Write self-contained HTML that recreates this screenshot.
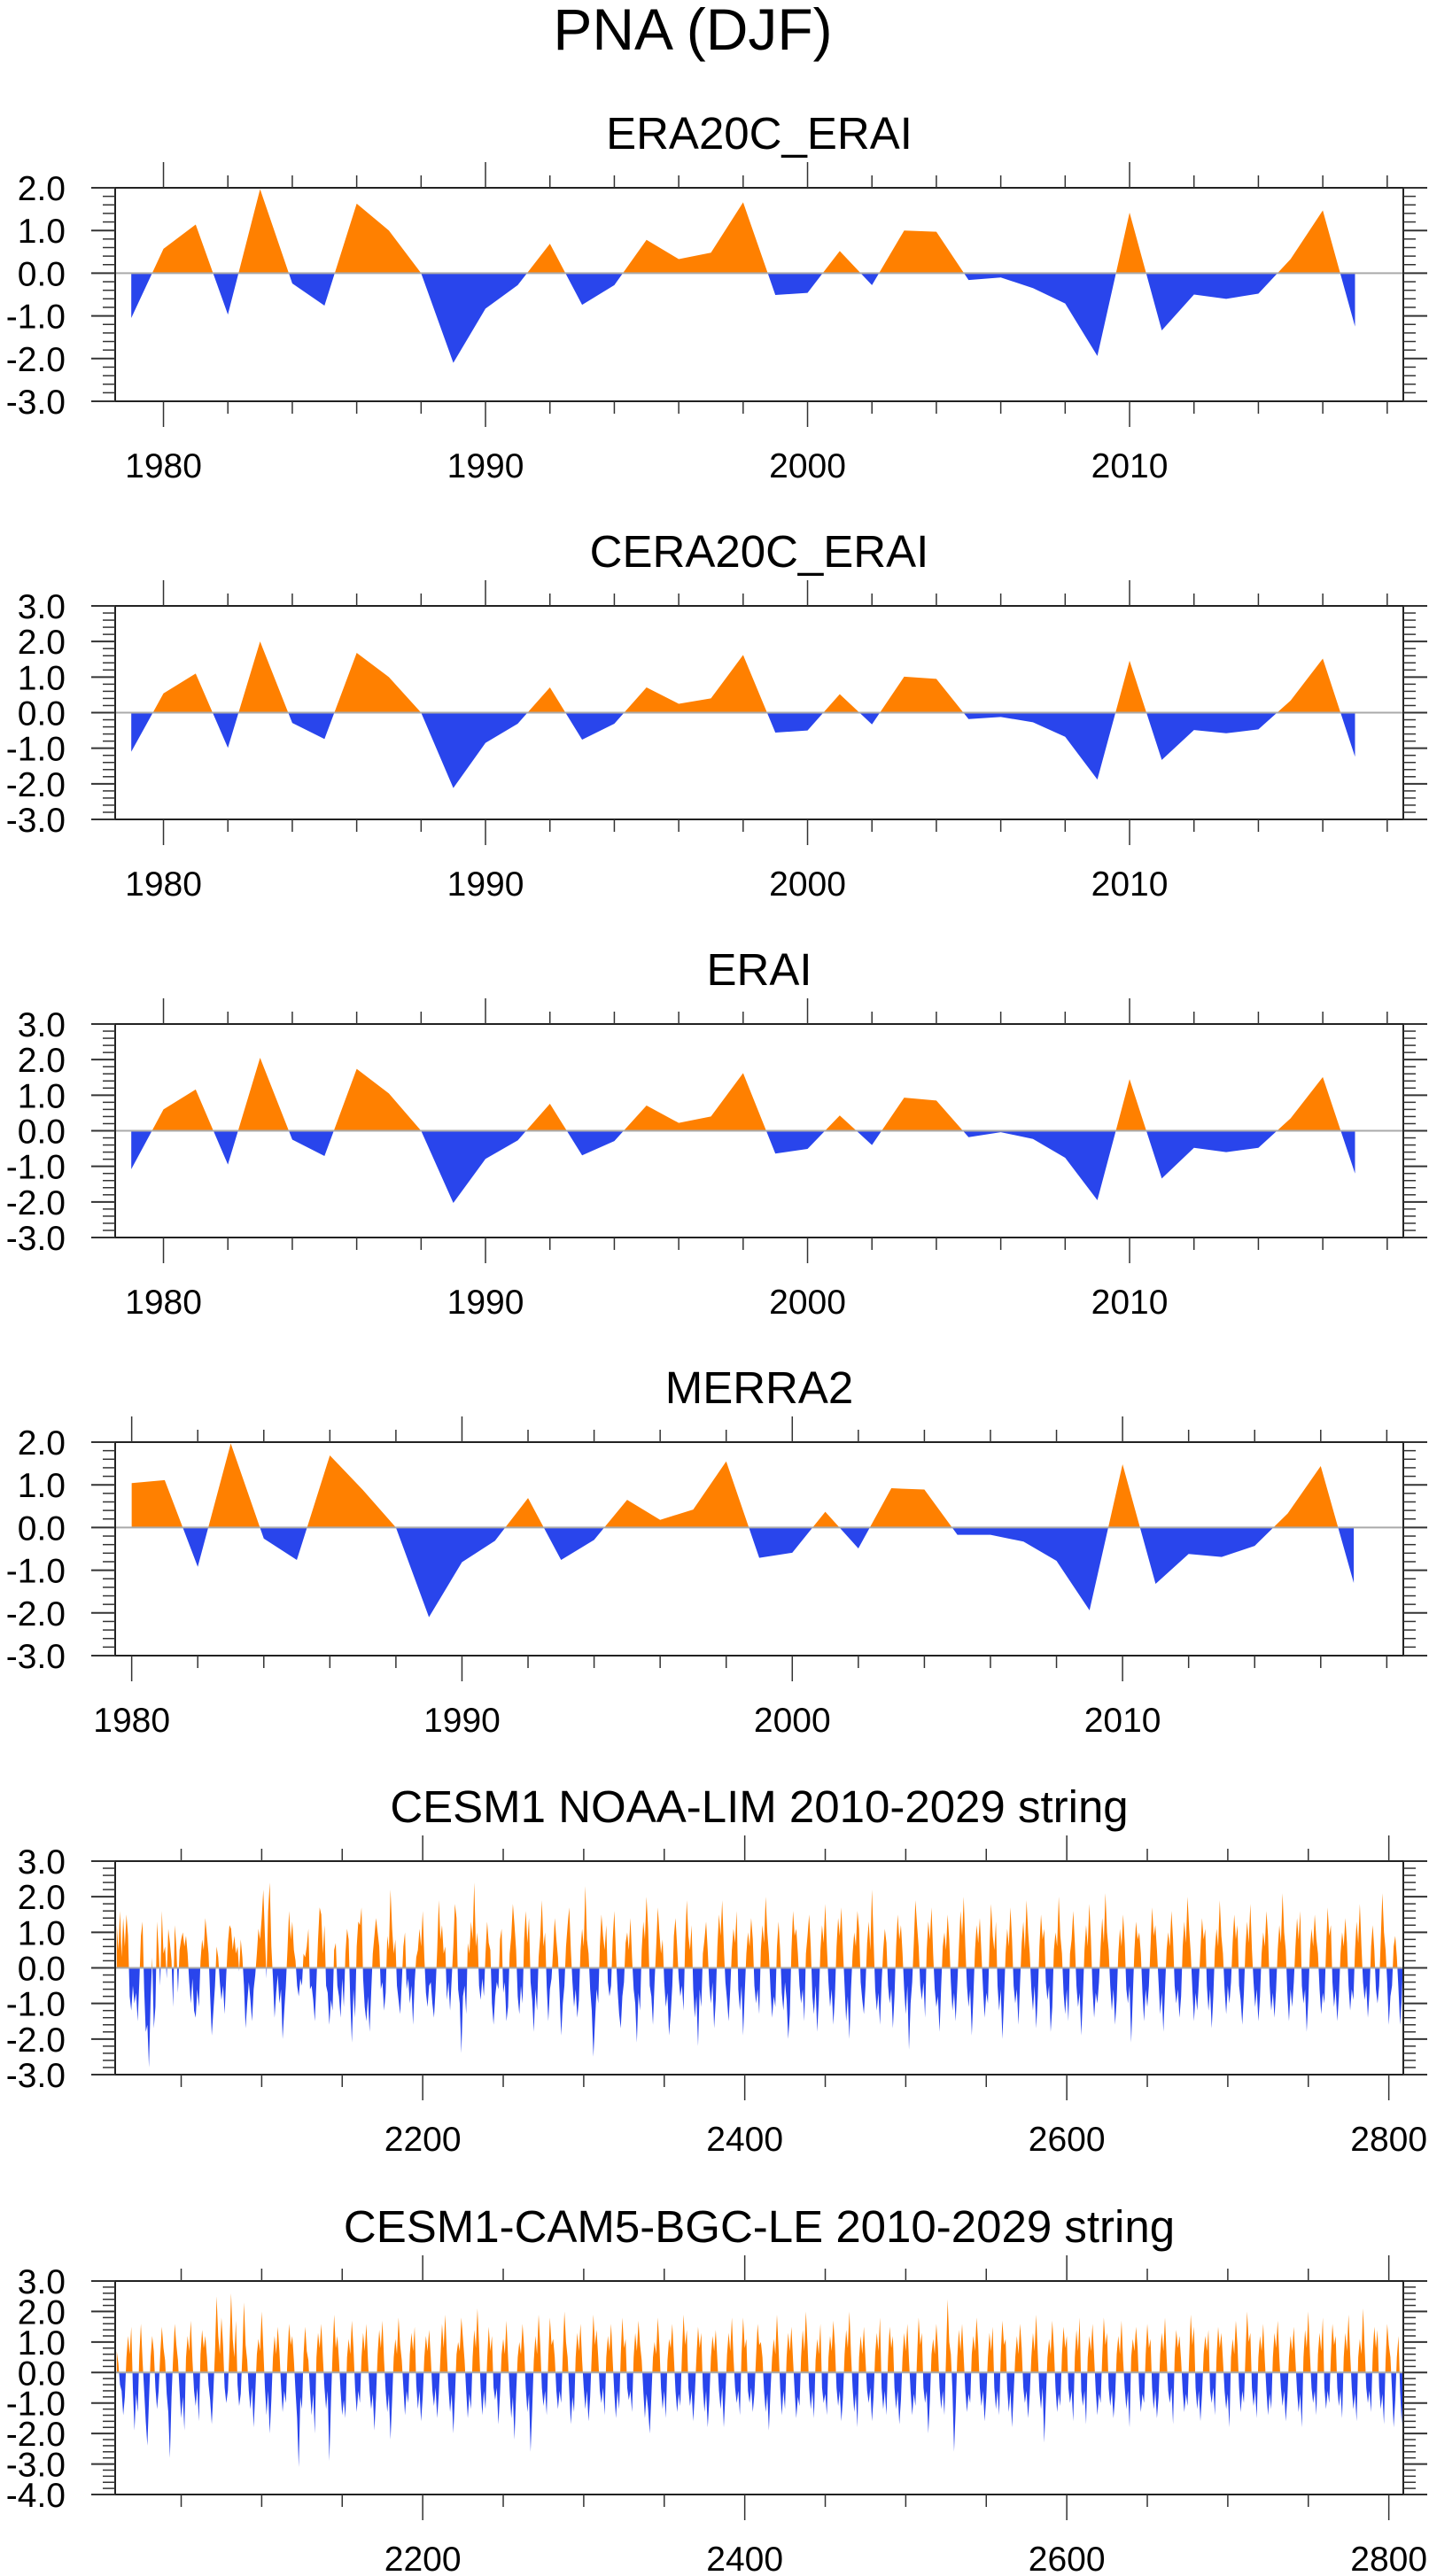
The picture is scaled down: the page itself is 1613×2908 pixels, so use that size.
<!DOCTYPE html>
<html><head><meta charset="utf-8"><title>PNA (DJF)</title>
<style>html,body{margin:0;padding:0;background:#fff}svg{display:block}text{font-family:"Liberation Sans",sans-serif;fill:#000}</style>
</head><body>
<svg id="fig" xmlns="http://www.w3.org/2000/svg" width="1613" height="2908" viewBox="0 0 1613 2908">
<rect width="1613" height="2908" fill="#fff"/>
<text x="782" y="56" font-size="66" text-anchor="middle">PNA (DJF)</text>
</svg>
<script>
// ---- data ----
const yearsA = [1979,1980,1981,1982,1983,1984,1985,1986,1987,1988,1989,1990,1991,1992,1993,1994,1995,1996,1997,1998,1999,2000,2001,2002,2003,2004,2005,2006,2007,2008,2009,2010,2011,2012,2013,2014,2015,2016,2017];
const era20c = [-1.05,0.57,1.14,-0.97,1.97,-0.24,-0.76,1.63,1.0,0.0,-2.1,-0.83,-0.28,0.69,-0.74,-0.28,0.78,0.33,0.48,1.66,-0.51,-0.46,0.52,-0.28,1.0,0.97,-0.16,-0.1,-0.35,-0.71,-1.94,1.42,-1.34,-0.5,-0.6,-0.48,0.33,1.47,-1.25];
const cera20c = [-1.10,0.54,1.10,-0.99,2.0,-0.29,-0.74,1.68,1.0,0.0,-2.12,-0.85,-0.31,0.71,-0.76,-0.31,0.71,0.25,0.40,1.62,-0.56,-0.5,0.52,-0.33,1.01,0.95,-0.18,-0.12,-0.27,-0.68,-1.88,1.46,-1.33,-0.49,-0.58,-0.47,0.34,1.52,-1.24];
const erai = [-1.08,0.6,1.16,-0.95,2.05,-0.25,-0.71,1.74,1.05,0.0,-2.03,-0.79,-0.27,0.76,-0.69,-0.29,0.71,0.22,0.40,1.62,-0.64,-0.51,0.43,-0.40,0.93,0.85,-0.18,-0.04,-0.23,-0.76,-1.95,1.45,-1.34,-0.48,-0.6,-0.48,0.35,1.51,-1.2];
const yearsM = [1980,1981,1982,1983,1984,1985,1986,1987,1988,1989,1990,1991,1992,1993,1994,1995,1996,1997,1998,1999,2000,2001,2002,2003,2004,2005,2006,2007,2008,2009,2010,2011,2012,2013,2014,2015,2016,2017];
const merra2 = [1.04,1.11,-0.92,1.97,-0.26,-0.76,1.69,0.88,0.0,-2.1,-0.81,-0.31,0.69,-0.76,-0.29,0.65,0.18,0.42,1.55,-0.71,-0.59,0.37,-0.49,0.92,0.89,-0.17,-0.17,-0.33,-0.78,-1.94,1.48,-1.32,-0.62,-0.69,-0.43,0.33,1.44,-1.3];
const limStart = 2010;
const limValues = [
1.2,0.5,1.6,0.3,1.4,0.6,1.5,0.9,-0.8,-1.2,-0.5,-1.0,-0.7,-1.5,-0.4,0.9,1.3,-0.6,-1.8,-1.6,-2.8,-0.9,0.3,-1.7,-1.1,1.3,0.5,-0.5,1.6,0.4,0.6,-0.3,1.1,0.7,0.2,-1.1,1.2,0.6,-0.7,0.5,
0.8,1.0,0.6,0.9,0.4,-0.4,-1.0,-0.3,-1.2,-1.4,-0.6,-1.1,0.2,0.8,0.5,1.4,0.9,0.4,-0.8,-1.9,-1.2,-0.5,0.6,0.3,-0.4,-0.9,-0.5,-1.3,-0.2,0.7,1.2,1.1,0.5,0.9,0.4,0.6,-0.1,0.8,0.3,-0.5,
-1.7,-1.0,-0.4,-0.9,-1.5,-0.6,-0.2,0.4,1.1,0.8,1.4,2.2,0.9,-0.3,1.6,2.4,0.6,-0.3,-1.4,-0.7,-0.2,-1.0,-0.6,-2.0,-1.2,-0.5,0.5,1.6,0.8,1.3,0.5,0.2,-0.5,-0.8,-0.3,-0.5,0.4,0.3,0.6,1.1,
-0.6,-0.5,-0.9,-1.5,-0.4,0.8,1.7,1.5,0.4,1.2,-0.5,-0.7,-1.6,-0.9,-1.2,0.5,0.7,-0.5,-0.8,-1.4,-0.3,-1.1,0.4,1.1,0.8,-0.9,-2.1,-0.6,-1.4,0.6,1.3,1.2,1.7,-0.3,-1.1,-1.5,-0.8,-1.8,-0.7,0.4,
0.9,1.4,1.0,0.6,-0.6,-0.4,-1.2,-0.7,0.9,0.5,2.2,1.1,0.4,0.8,-0.5,-0.9,-1.3,-0.4,0.6,1.0,-0.6,-0.3,-1.0,-0.5,-1.6,-0.4,0.3,0.5,1.1,0.6,1.6,0.3,-0.7,-1.1,-0.5,-0.4,-1.0,-1.4,-0.6,0.5,
1.9,0.8,1.2,0.4,0.6,-0.9,-0.4,-1.2,-0.3,0.6,1.8,1.4,-0.6,-1.0,-2.4,-0.8,-0.5,-1.3,0.7,0.4,1.3,0.8,2.4,0.6,1.0,-0.5,-0.9,-0.3,-0.8,0.4,1.3,0.7,0.5,-1.0,-1.6,-0.8,-0.4,-0.6,0.8,1.1,
-0.7,-0.4,-1.5,-1.1,0.4,0.9,1.8,1.2,0.5,-0.8,-1.3,-0.5,-1.0,0.8,1.6,0.7,1.4,-0.4,-0.9,-1.8,-0.6,-1.2,0.3,0.9,1.9,0.6,1.0,-0.5,-1.5,-0.6,-0.3,0.5,1.4,0.8,0.3,-0.7,-1.9,-1.0,-0.5,0.6,
1.2,1.7,0.5,-0.4,-1.1,-0.6,-1.4,-0.9,0.5,1.1,0.6,2.3,0.8,0.4,-0.6,-1.2,-2.5,-1.5,-0.6,-1.0,0.6,1.5,0.9,0.5,1.2,-0.4,-0.8,-0.5,0.8,1.6,0.4,-0.6,-1.3,-1.7,-0.8,-0.4,0.7,1.0,0.5,1.4,
0.3,-0.6,-1.0,-2.1,-0.7,-1.2,0.5,1.3,0.8,2.0,1.1,-0.5,-0.8,-1.6,-0.4,0.6,1.7,1.0,0.4,0.8,-0.4,-1.1,-0.7,-1.9,-1.3,-0.5,0.9,1.4,0.6,-0.3,-0.8,-0.5,-1.2,0.7,1.9,0.9,0.5,1.2,-0.6,-1.4,
-0.8,-2.2,-0.6,-1.1,0.4,0.8,1.3,0.5,-0.5,-1.0,-0.4,-1.7,-0.9,0.6,1.5,0.9,1.9,0.6,-0.4,-0.9,-1.5,-0.6,0.5,1.1,0.7,1.6,-0.6,-1.2,-0.5,-1.9,-0.7,0.4,1.0,0.6,1.4,0.8,-0.5,-1.0,-0.6,-1.3,
0.5,1.2,0.7,2.0,1.0,0.4,-0.6,-1.4,-0.8,-1.1,0.6,1.3,0.5,-0.7,-1.2,-0.4,-0.9,-2.0,-1.3,0.5,1.6,0.9,1.1,0.4,-0.5,-1.0,-0.6,-1.5,0.4,0.9,1.5,0.6,-0.8,-1.3,-0.5,-1.8,-0.9,0.5,1.2,0.7,
1.8,0.6,-0.4,-1.1,-0.6,-1.6,-0.8,0.6,1.4,0.9,1.7,0.5,-0.5,-1.5,-0.8,-2.0,-0.6,0.4,1.0,0.6,1.6,1.1,-0.4,-0.9,-1.3,-0.5,0.7,1.3,0.5,2.2,0.8,-0.6,-1.2,-0.7,-1.6,-0.4,0.5,1.1,0.7,-0.5,
-1.0,-0.6,-1.7,-0.8,0.6,1.5,0.8,1.2,0.4,-0.6,-1.3,-0.5,-2.3,-1.0,-0.4,0.7,1.9,1.2,0.6,-0.5,-0.9,-0.4,-1.4,0.5,1.3,0.8,1.7,0.4,-0.6,-1.1,-0.8,-1.8,-0.5,0.6,1.0,0.5,1.5,0.8,-0.4,-1.2,
-0.7,-1.5,-0.5,0.6,1.6,0.9,2.0,0.6,-0.5,-1.1,-0.6,-1.9,-0.8,0.5,1.2,0.7,1.4,0.4,-0.6,-1.4,-0.7,-1.0,0.6,1.8,0.9,0.5,1.3,-0.5,-1.2,-0.6,-2.0,-0.9,0.4,1.1,0.6,1.7,0.8,-0.5,-1.0,-0.6,
-1.6,-0.4,0.7,1.3,0.5,1.9,1.0,0.4,-0.6,-1.2,-0.5,-1.7,-0.8,0.6,1.5,0.8,1.1,-0.4,-0.9,-0.5,-1.8,-1.1,0.5,1.0,0.6,2.0,0.9,0.4,-0.7,-1.3,-0.6,-1.5,0.4,0.8,1.6,0.7,-0.5,-1.1,-0.7,-1.9,
-0.8,0.5,1.2,0.6,1.8,0.8,-0.6,-1.4,-0.7,-1.0,-0.4,0.6,1.4,0.7,2.1,1.0,0.5,-0.5,-1.2,-0.6,-1.6,-0.9,0.4,1.1,0.6,1.5,0.7,-0.6,-1.0,-0.5,-2.1,-0.8,0.5,1.3,0.8,1.0,0.4,-0.7,-1.5,-0.6,
-1.1,-0.5,0.6,1.7,0.9,1.2,0.5,-0.4,-1.3,-0.7,-1.8,-0.6,0.5,1.0,0.6,1.6,0.8,-0.5,-1.0,-0.6,-1.4,-0.8,0.6,1.3,0.7,2.0,1.1,0.4,-0.6,-1.5,-0.7,-1.2,-0.4,0.5,1.4,0.8,1.1,-0.5,-1.2,-0.6,
-1.7,-0.8,0.5,1.1,0.6,1.9,0.9,0.4,-0.6,-1.3,-0.5,-1.0,-0.4,0.7,1.5,0.8,1.2,-0.5,-0.9,-1.6,-0.7,0.6,1.3,0.7,1.8,0.5,-0.4,-1.1,-0.6,-1.5,-0.8,0.4,1.0,0.6,1.6,0.9,-0.5,-1.2,-0.7,-1.4,
-0.6,0.5,1.2,0.7,2.1,1.0,0.5,-0.7,-1.5,-0.6,-1.1,-0.4,0.6,1.4,0.8,1.6,-0.5,-1.0,-0.6,-1.8,-0.9,0.5,1.1,0.6,1.5,0.8,0.4,-0.6,-1.3,-0.7,-1.0,0.5,1.7,0.9,1.2,-0.4,-1.1,-0.6,-1.5,-0.8,
0.4,1.0,0.6,1.4,0.7,-0.5,-1.2,-0.6,-0.9,0.5,1.3,0.7,1.8,0.6,-0.4,-0.9,-0.5,-1.4,-0.7,0.6,1.2,0.5,-0.6,-1.0,-0.5,0.8,2.1,1.0,0.5,-0.4,-1.6,-0.8,-0.5,0.6,0.9,0.3,-0.6,-1.6,-0.9,0.4];
const leStart = 2010;
const leValues = [
0.7,0.3,-0.4,-0.6,-1.4,-0.8,0.5,1.2,0.6,1.5,-0.5,-1.9,-0.7,-1.3,0.6,1.6,0.4,-0.6,-1.6,-2.4,-0.9,0.5,1.2,0.7,-0.5,-1.2,-0.6,0.6,1.5,0.8,0.4,-0.7,-1.3,-2.8,-0.8,0.5,1.6,0.9,0.4,-0.6,
-1.5,-0.8,-1.9,0.5,1.2,0.7,1.7,0.4,-0.6,-1.1,-0.5,-1.6,0.6,1.4,0.8,1.2,0.5,-0.4,-0.9,-1.7,-0.6,0.7,2.5,1.2,0.6,1.8,0.9,-0.5,-1.0,-0.6,0.8,2.6,1.1,0.5,1.7,-0.4,-1.1,-0.7,0.6,2.3,
0.9,0.4,-0.6,-1.2,-0.5,-1.8,-0.7,0.6,1.1,0.7,2.0,0.8,-0.5,-1.4,-0.6,-2.0,-0.9,0.5,1.2,0.6,1.5,0.7,-0.4,-1.3,-0.6,-1.0,0.5,1.6,0.9,1.2,0.4,-0.6,-1.5,-3.1,-0.8,-1.2,0.6,1.5,0.7,0.4,
-0.6,-1.4,-0.7,-2.0,0.5,1.3,0.8,1.6,0.5,-0.5,-1.2,-0.6,-2.9,-1.0,0.6,1.9,0.8,1.2,0.4,-0.6,-1.4,-0.9,-1.5,0.5,1.1,0.6,1.7,0.8,-0.5,-1.3,-0.6,-1.0,0.5,1.3,0.7,1.6,0.4,-0.6,-1.2,-0.7,
-1.9,-0.8,0.6,1.4,0.8,1.7,0.4,-0.6,-1.3,-0.7,-2.2,-0.9,0.5,1.1,0.6,1.8,0.9,0.4,-0.5,-1.4,-0.6,-1.0,0.6,1.3,0.7,1.5,-0.4,-1.2,-0.6,-1.6,-0.8,0.5,1.2,0.7,1.4,0.5,-0.6,-1.1,-0.5,-1.5,
-0.7,0.5,1.6,0.8,1.9,0.6,-0.5,-1.3,-0.7,-2.0,-0.8,0.6,1.0,0.7,1.8,1.1,0.4,-0.6,-1.5,-0.7,-1.2,0.5,1.4,0.8,2.1,0.9,-0.5,-1.4,-0.6,-1.2,0.4,1.5,0.7,1.2,-0.5,-0.9,-0.5,-1.7,-0.7,0.6,
1.1,0.6,1.7,0.5,-0.6,-1.5,-0.8,-2.2,-0.7,0.5,1.0,0.6,1.6,0.8,-0.5,-1.3,-0.7,-2.6,-1.2,0.4,1.2,0.6,1.9,0.9,-0.5,-1.1,-0.6,-1.4,0.5,1.8,0.9,1.1,0.5,-0.6,-1.2,-0.6,-1.0,0.6,2.0,1.0,
0.5,-0.6,-1.7,-0.8,-1.3,0.5,1.3,0.7,1.6,0.4,-0.5,-1.2,-0.6,-1.6,-0.8,0.6,1.9,0.9,1.4,0.5,-0.6,-1.0,-0.5,-1.4,0.5,1.2,0.7,1.6,0.4,-0.7,-1.5,-0.6,-1.2,0.6,1.8,0.8,1.1,-0.5,-0.9,-0.6,
-1.3,0.5,1.3,0.7,1.7,0.9,0.4,-0.6,-1.5,-0.7,-1.2,-2.0,-0.8,0.5,1.0,0.6,1.8,0.9,-0.5,-1.2,-0.6,-1.5,0.4,1.1,0.8,1.6,0.5,-0.6,-1.3,-0.7,-1.1,0.6,1.9,0.9,1.4,-0.5,-1.1,-0.6,-1.6,-0.7,
0.5,1.5,0.8,1.3,-0.5,-1.3,-0.6,-1.8,-0.9,0.5,1.2,0.7,1.4,0.4,-0.6,-1.2,-0.5,-1.8,-0.7,0.6,1.3,0.7,1.8,0.5,-0.5,-1.0,-0.6,-1.4,0.6,1.8,0.8,1.1,-0.6,-1.0,-0.5,-1.3,-0.7,0.5,1.6,0.9,
1.0,0.5,-0.6,-1.3,-0.7,-1.9,-0.6,0.5,1.1,0.6,1.9,0.8,-0.5,-1.4,-0.6,-1.2,0.5,1.3,0.7,1.5,0.4,-0.6,-1.5,-0.8,-1.1,0.5,1.4,0.7,2.0,0.9,-0.5,-1.2,-0.6,-1.5,0.4,1.1,0.6,1.6,-0.5,-1.0,
-0.7,-1.4,0.5,1.2,0.7,1.7,0.9,-0.5,-1.1,-0.6,-1.6,-0.8,0.6,1.4,0.8,2.0,0.6,-0.5,-1.3,-0.7,-1.8,0.5,1.2,0.6,1.5,0.4,-0.6,-1.0,-0.5,-1.6,-0.8,0.6,1.3,0.7,1.8,-0.5,-1.2,-0.6,-1.4,0.5,
1.5,0.8,1.2,-0.5,-1.2,-0.6,-1.7,-0.9,0.5,1.3,0.7,1.6,0.4,-0.6,-1.4,-0.7,-1.1,0.5,1.8,0.9,1.3,-0.5,-1.0,-0.6,-2.0,-0.9,0.6,1.1,0.6,1.6,0.8,-0.5,-1.2,-0.6,-1.4,0.5,2.4,1.0,0.6,-0.6,
-2.6,-1.2,0.5,1.4,0.7,1.6,0.5,-0.6,-1.3,-0.7,-1.0,0.6,1.2,0.7,1.8,0.9,-0.5,-1.1,-0.6,-1.6,-0.8,0.5,1.3,0.7,1.5,-0.5,-1.2,-0.6,-1.4,0.6,1.7,0.9,1.1,-0.5,-1.3,-0.6,-1.8,-0.7,0.5,1.2,
0.6,1.6,0.8,-0.5,-1.0,-0.6,-1.5,-0.7,0.5,1.3,0.7,1.9,0.6,-0.6,-1.2,-0.5,-2.3,-0.9,0.5,1.1,0.6,1.7,0.8,-0.5,-1.3,-0.7,-1.1,0.6,1.5,0.8,1.2,-0.5,-1.0,-0.6,-1.6,0.5,1.4,0.7,1.8,-0.6,
-1.1,-0.6,-1.7,0.5,1.2,0.7,1.6,0.5,-0.6,-1.4,-0.7,-1.0,0.5,1.8,0.9,1.3,-0.5,-1.1,-0.6,-1.5,-0.8,0.6,1.2,0.6,1.7,0.4,-0.5,-1.2,-0.6,-1.8,0.5,1.1,0.7,1.5,0.8,-0.6,-1.3,-0.7,-1.0,0.6,
1.6,0.8,1.1,-0.5,-1.2,-0.6,-1.5,-0.8,0.6,1.3,0.7,1.8,0.5,-0.6,-1.0,-0.5,-1.7,0.5,1.4,0.8,1.2,0.4,-0.6,-1.3,-0.7,-1.1,0.5,1.9,0.9,1.5,-0.5,-1.2,-0.6,-1.6,-0.7,0.6,1.2,0.7,1.4,-0.6,
-1.0,-0.5,-1.4,0.5,1.5,0.8,1.3,0.4,-0.6,-1.2,-0.7,-1.8,0.5,1.1,0.6,1.7,0.9,-0.5,-1.3,-0.6,-1.0,0.6,2.0,1.0,1.3,-0.5,-1.1,-0.6,-1.5,0.5,1.2,0.7,1.6,0.4,-0.6,-1.4,-0.7,-1.2,0.5,1.3,
0.8,1.7,0.5,-0.5,-1.1,-0.6,-1.6,-0.8,0.5,1.2,0.7,1.5,0.4,-0.6,-1.3,-0.7,-1.8,0.5,1.4,0.8,2.0,0.6,-0.5,-1.0,-0.6,-1.4,0.6,1.3,0.7,1.8,-0.5,-1.2,-0.6,-1.0,0.5,1.6,0.9,1.2,-0.5,-1.1,
-0.6,-1.5,0.5,1.3,0.7,1.9,0.6,-0.5,-1.2,-0.7,-1.6,0.5,1.1,0.6,2.1,0.8,-0.5,-1.0,-0.6,-1.3,0.6,1.5,0.8,1.4,-0.5,-1.2,-0.7,-1.7,0.4,1.6,0.9,0.5,-0.6,-1.8,-0.9,0.5,1.2,-0.6,-1.7,-0.4];

// ---- layout ----
const X0 = 130, X1 = 1584;
const ORANGE = "#ff8000", BLUE = "#2945ec";
const svg = document.getElementById("fig");
const NS = "http://www.w3.org/2000/svg";
function mk(tag, attrs, parent) {
  const e = document.createElementNS(NS, tag);
  for (const k in attrs) e.setAttribute(k, attrs[k]);
  (parent || svg).appendChild(e);
  return e;
}

function drawPanel(p, idx) {
  const g = mk("g", {});
  
  
  const top = p.top, bot = p.top + 241;
  const xs = v => X0 + (v - p.xmin) / (p.xmax - p.xmin) * (X1 - X0);
  const ys = v => top + (p.ymax - v) / (p.ymax - p.ymin) * (bot - top);
  const y0 = ys(0);

  const t = mk("text", {x: (X0 + X1) / 2, y: top - 44, "font-size": 51, "text-anchor": "middle"}, g);
  t.textContent = p.title;
  
  

  const defs = mk("defs", {}, g);
  const cu = mk("clipPath", {id: "cu" + idx}, defs);
  mk("rect", {x: X0, y: top, width: X1 - X0, height: y0 - top}, cu);
  const cd = mk("clipPath", {id: "cd" + idx}, defs);
  mk("rect", {x: X0, y: y0, width: X1 - X0, height: bot - y0}, cd);

  let pts = [];
  for (let i = 0; i < p.vals.length; i++) {
    const yr = p.x0 !== undefined ? p.x0 + i : p.xs[i];
    pts.push(xs(yr).toFixed(2) + "," + ys(p.vals[i]).toFixed(2));
  }
  const firstX = xs(p.x0 !== undefined ? p.x0 : p.xs[0]);
  const lastX = xs(p.x0 !== undefined ? p.x0 + p.vals.length - 1 : p.xs[p.xs.length - 1]);
  const poly = pts.join(" ") + " " + lastX.toFixed(2) + "," + y0.toFixed(2) + " " + firstX.toFixed(2) + "," + y0.toFixed(2);
  const pu = mk("polygon", {points: poly, fill: ORANGE, "clip-path": "url(#cu" + idx + ")"}, g);
  
  
  const pd = mk("polygon", {points: poly, fill: BLUE, "clip-path": "url(#cd" + idx + ")"}, g);
  
  
  const zl = mk("line", {x1: X0, x2: X1, y1: y0, y2: y0, stroke: "#aaa", "stroke-width": 2}, g);
  
  

  const fr = mk("rect", {x: X0, y: top, width: X1 - X0, height: bot - top, fill: "none", stroke: "#222", "stroke-width": 2}, g);
  
  

  for (let v = p.ymin; v <= p.ymax + 1e-6; v += 0.2) {
    const vr = Math.round(v * 10) / 10;
    const major = Math.abs(vr - Math.round(vr)) < 1e-6;
    const y = ys(vr);
    const L = major ? 27 : 14;
    mk("line", {x1: X0 - L, x2: X0, y1: y, y2: y, stroke: "#333", "stroke-width": major ? 2 : 1.5}, g);
    mk("line", {x1: X1, x2: X1 + L, y1: y, y2: y, stroke: "#333", "stroke-width": major ? 2 : 1.5}, g);
    if (major) {
      const lb = mk("text", {x: 74, y: y + 14, "font-size": 39, "text-anchor": "end"}, g);
      lb.textContent = vr.toFixed(1);
      
      
    }
  }
  for (let v = p.minorStart; v <= p.xmax; v += p.minorStep) {
    const major = p.majors.indexOf(v) >= 0;
    const x = xs(v);
    const L = major ? 29 : 14;
    mk("line", {x1: x, x2: x, y1: top - L, y2: top, stroke: "#333", "stroke-width": 1.5}, g);
    mk("line", {x1: x, x2: x, y1: bot, y2: bot + L, stroke: "#333", "stroke-width": 1.5}, g);
  }
  for (const v of p.majors) {
    const lb = mk("text", {x: xs(v), y: bot + 86, "font-size": 39, "text-anchor": "middle"}, g);
    lb.textContent = String(v);
    
    
  }
}

const panels = [
  {name: "panel-era20c-erai", title: "ERA20C_ERAI", top: 212, ymax: 2, ymin: -3, xmin: 1978.5, xmax: 2018.5, xs: yearsA, vals: era20c, majors: [1980,1990,2000,2010], minorStart: 1980, minorStep: 2},
  {name: "panel-cera20c-erai", title: "CERA20C_ERAI", top: 684, ymax: 3, ymin: -3, xmin: 1978.5, xmax: 2018.5, xs: yearsA, vals: cera20c, majors: [1980,1990,2000,2010], minorStart: 1980, minorStep: 2},
  {name: "panel-erai", title: "ERAI", top: 1156, ymax: 3, ymin: -3, xmin: 1978.5, xmax: 2018.5, xs: yearsA, vals: erai, majors: [1980,1990,2000,2010], minorStart: 1980, minorStep: 2},
  {name: "panel-merra2", title: "MERRA2", top: 1628, ymax: 2, ymin: -3, xmin: 1979.5, xmax: 2018.5, xs: yearsM, vals: merra2, majors: [1980,1990,2000,2010], minorStart: 1980, minorStep: 2},
  {name: "panel-cesm1-noaa-lim", title: "CESM1 NOAA-LIM 2010-2029 string", top: 2101, ymax: 3, ymin: -3, xmin: 2009, xmax: 2809, x0: limStart, vals: limValues, majors: [2200,2400,2600,2800], minorStart: 2050, minorStep: 50},
  {name: "panel-cesm1-cam5-bgc-le", title: "CESM1-CAM5-BGC-LE 2010-2029 string", top: 2575, ymax: 3, ymin: -4, xmin: 2009, xmax: 2809, x0: leStart, vals: leValues, majors: [2200,2400,2600,2800], minorStart: 2050, minorStep: 50}
];
panels.forEach((p, i) => drawPanel(p, i));
</script>
</body></html>
